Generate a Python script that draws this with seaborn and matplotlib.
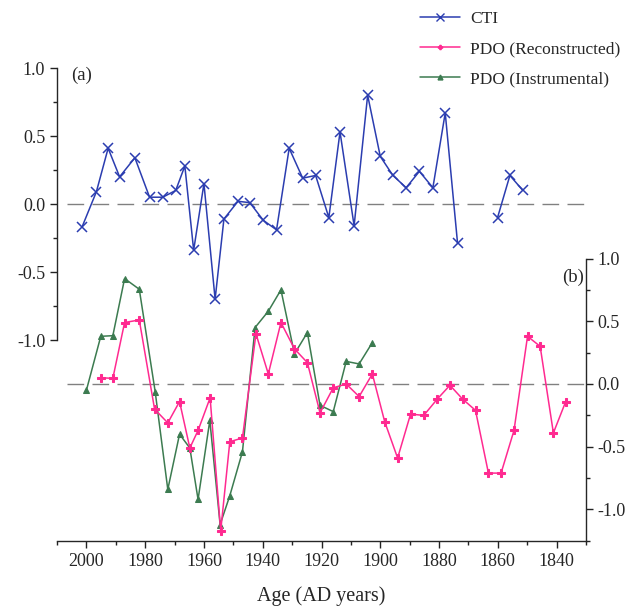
import numpy as np
import pandas as pd
import seaborn as sns
import matplotlib.pyplot as plt
from matplotlib.lines import Line2D
from matplotlib.ticker import MultipleLocator

# --- CTI, panel (a); the gap after 1873 is split into a second segment
cti_year = [2001.5, 1996.6, 1992.6, 1988.7, 1983.5, 1978.5, 1974.0, 1969.6, 1966.5, 1963.5,
            1960.0, 1956.2, 1953.2, 1948.4, 1944.4, 1939.8, 1935.3, 1931.0, 1926.4, 1922.0,
            1917.5, 1913.7, 1908.9, 1904.3, 1900.0, 1895.7, 1891.2, 1886.7, 1882.1, 1877.9,
            1873.7, 1860.1, 1855.9, 1851.5]
cti_val = [-0.17, 0.09, 0.41, 0.20, 0.34, 0.05, 0.05, 0.10, 0.28, -0.34,
           0.15, -0.70, -0.11, 0.02, 0.01, -0.12, -0.19, 0.41, 0.19, 0.21,
           -0.10, 0.53, -0.16, 0.80, 0.35, 0.21, 0.12, 0.24, 0.12, 0.67,
           -0.29, -0.10, 0.21, 0.10]
cti_seg = [0] * 31 + [1] * 3

# --- PDO reconstructed, panel (b)
rec_year = [1995.1, 1991.0, 1987.0, 1982.0, 1976.8, 1972.3, 1968.3, 1964.8, 1962.0, 1957.9,
            1954.3, 1951.2, 1946.9, 1942.3, 1938.1, 1933.8, 1929.2, 1924.8, 1920.5, 1916.0,
            1911.6, 1907.2, 1902.7, 1898.5, 1894.1, 1889.7, 1885.2, 1880.6, 1876.3, 1872.0,
            1867.6, 1863.2, 1858.9, 1854.5, 1849.9, 1845.6, 1841.1, 1836.9]
rec_val = [0.05, 0.045, 0.49, 0.51, -0.20, -0.31, -0.14, -0.51, -0.37, -0.11,
           -1.17, -0.46, -0.43, 0.40, 0.08, 0.49, 0.28, 0.17, -0.23, -0.03,
           0.00, -0.10, 0.08, -0.30, -0.59, -0.24, -0.25, -0.12, -0.01, -0.12,
           -0.21, -0.71, -0.71, -0.37, 0.38, 0.30, -0.39, -0.14]

# --- PDO instrumental, panel (b)
ins_year = [2000.0, 1995.1, 1991.0, 1987.0, 1982.0, 1976.6, 1972.3, 1968.3, 1964.8, 1962.0,
            1958.0, 1954.5, 1951.2, 1946.9, 1942.6, 1938.1, 1933.8, 1929.2, 1924.8, 1920.5,
            1916.0, 1911.6, 1907.2, 1902.7]
ins_val = [-0.05, 0.38, 0.385, 0.84, 0.755, -0.06, -0.84, -0.40, -0.51, -0.92,
           -0.29, -1.12, -0.89, -0.54, 0.45, 0.58, 0.75, 0.24, 0.41, -0.17,
           -0.22, 0.18, 0.16, 0.33]

c_cti = '#2b3db0'
c_rec = '#ff2a90'
c_ins = '#3c7b50'

sns.set_style("ticks")
plt.rcParams['font.family'] = ['Liberation Serif', 'DejaVu Serif']
plt.rcParams['axes.linewidth'] = 1.0

cti = pd.DataFrame({'year': cti_year, 'val': cti_val, 'seg': cti_seg})
rec = pd.DataFrame({'year': rec_year, 'val': rec_val})
ins = pd.DataFrame({'year': ins_year, 'val': ins_val})

f = plt.figure(figsize=(6.34, 6.08), dpi=100)
ax = f.add_axes([0.0899, 0.1102, 0.8344, 0.8240])
ax2 = ax.twinx()

# zero reference lines
ax.axhline(0, xmin=0.019, xmax=1, color='#808080', lw=1.0, dashes=(12, 6), zorder=1)
ax2.axhline(0, xmin=0.019, xmax=1, color='#808080', lw=1.0, dashes=(12, 6), zorder=1)

sns.lineplot(data=cti, x='year', y='val', units='seg', estimator=None, ax=ax,
             color=c_cti, lw=1.1, marker='x', markersize=7, mew=1.1, mec=c_cti,
             legend=False)
sns.lineplot(data=ins, x='year', y='val', ax=ax2, color=c_ins, lw=1.1,
             marker='^', markersize=5, mec=c_ins, legend=False)
sns.lineplot(data=rec, x='year', y='val', ax=ax2, color=c_rec, lw=1.1,
             marker='P', markersize=5.5, mec=c_rec, legend=False)

ax.set_xlim(2010, 1830)
ax.set_ylim(-2.478, 1.206)
ax2.set_ylim(-1.251, 2.741)

ax.xaxis.set_major_locator(MultipleLocator(20))
ax.xaxis.set_minor_locator(MultipleLocator(10))
for a in (ax, ax2):
    a.tick_params(which='major', length=5, width=1, labelsize=13, color='#222222')
    a.tick_params(which='minor', length=3, width=1, color='#222222')
    a.set_ylabel('')

ax.set_yticks([-1.0, -0.5, 0.0, 0.5, 1.0])
ax.set_yticks(np.arange(-1.0, 1.01, 0.25), minor=True)
ax.set_yticklabels(['-1.0', '-0.5', '0.0', '0.5', '1.0'])
ax2.set_yticks([-1.0, -0.5, 0.0, 0.5, 1.0])
ax2.set_yticks(np.arange(-1.25, 1.01, 0.25), minor=True)
ax2.set_yticklabels(['-1.0', '-0.5', '0.0', '0.5', '1.0'])

ax.spines['top'].set_visible(False)
ax.spines['right'].set_visible(False)
ax.spines['left'].set_bounds(-1.0, 1.0)
ax2.spines['top'].set_visible(False)
ax2.spines['left'].set_visible(False)
ax2.spines['bottom'].set_visible(False)
ax2.spines['right'].set_bounds(-1.251, 1.0)

ax.set_xlabel('Age (AD years)', fontsize=14.5, labelpad=12)

f.text(71 / 634, 1 - 75 / 608, '(a)', fontsize=13.5, va='center', ha='left')
f.text(584 / 634, 1 - 277 / 608, '(b)', fontsize=13.5, va='center', ha='right')

handles = [Line2D([], [], color=c_cti, lw=1.1, marker='x', markersize=6),
           Line2D([], [], color=c_rec, lw=1.1, marker='P', markersize=3),
           Line2D([], [], color=c_ins, lw=1.1, marker='^', markersize=3.5)]
f.legend(handles, ['CTI', 'PDO (Reconstructed)', 'PDO (Instrumental)'],
         loc='upper left', bbox_to_anchor=(420 / 634, 1 - 11 / 608),
         frameon=False, fontsize=12.5, handlelength=2.3, handletextpad=0.6,
         labelspacing=0.8, borderpad=0, borderaxespad=0)

plt.savefig('out.png', dpi=100)
